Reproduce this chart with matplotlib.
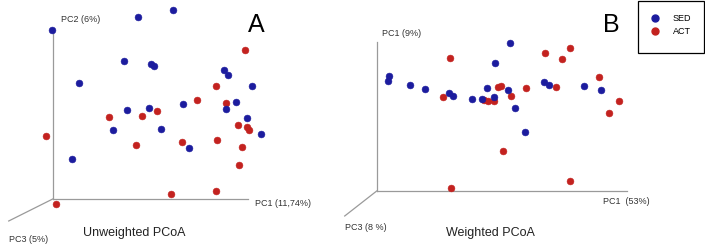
import matplotlib
matplotlib.use("Agg")
import matplotlib.pyplot as plt
from matplotlib.patches import Rectangle
from matplotlib.lines import Line2D

plt.rcParams['font.family'] = ['Liberation Sans', 'DejaVu Sans']

BLUE = '#1c1c9e'
RED = '#c3221f'

# projected PCoA coordinates (relative to the 3D frame origin)
# panel A - unweighted
a_sed_x = [-1, 85, 120, 71, 98, 101, 26, 171, 175, 199, 183, 173, 130, 96, 74, 108, 60, 194, 208, 136, 19]
a_sed_y = [169, 182, 189, 138, 135, 133, 116, 129, 124, 113, 97, 90, 95, 91, 89, 70, 69, 81, 65, 51, 40]
a_act_x = [192, 163, 144, 173, 104, 89, 56, 185, 194, 196, -7, 129, 164, 83, 189, 186, 118, 163, 3]
a_act_y = [149, 113, 99, 96, 88, 83, 82, 74, 72, 69, 63, 57, 59, 54, 52, 34, 5, 8, -5]

# panel B - weighted
b_sed_x = [133, 118, 12, 11, 33, 48, 72, 76, 95, 105, 110, 117, 131, 138, 148, 167, 172, 207, 224]
b_sed_y = [148, 128, 115, 110, 106, 102, 98, 95, 92, 92, 103, 94, 101, 83, 59, 109, 106, 105, 101]
b_act_x = [73, 168, 193, 185, 222, 66, 107, 111, 117, 121, 124, 134, 149, 179, 242, 232, 126, 193, 74]
b_act_y = [133, 138, 143, 132, 114, 94, 91, 90, 90, 104, 105, 95, 103, 104, 90, 78, 40, 10, 3]

groups = ['SED', 'ACT']

fig = plt.figure(figsize=(7.05, 2.44), dpi=100)

def frame(ax, ox, oy, top, right, diag):
    # each panel axes covers the whole figure, 1 unit = 1 pixel
    ax.set_xlim(-ox, 705 - ox)
    ax.set_ylim(oy - 244, oy)
    ax.axis('off')
    ax.plot([0, 0], [0, top], color='#9a9a9a', lw=0.9, zorder=1)
    ax.plot([0, right], [0, 0], color='#9a9a9a', lw=0.9, zorder=1)
    ax.plot([0, diag[0]], [0, diag[1]], color='#9a9a9a', lw=0.9, zorder=1)

def points(ax, x, y, c):
    ax.scatter(x, y, s=24, color=c, edgecolors=c, linewidths=0.4, zorder=3)

axA = fig.add_axes([0, 0, 1, 1])
axA.patch.set_alpha(0)
frame(axA, 52.7, 199, 167, 195, (-44, -22))
points(axA, a_act_x, a_act_y, RED)
points(axA, a_sed_x, a_sed_y, BLUE)
axA.text(8, 180, 'PC2 (6%)', fontsize=6.5, va='center', color='#333333')
axA.text(202, -5, 'PC1 (11,74%)', fontsize=6.5, va='center', color='#333333')
axA.text(-44, -40, 'PC3 (5%)', fontsize=6.5, va='center', color='#333333')
axA.text(82, -34, 'Unweighted PCoA', fontsize=9, ha='center', va='center', color='#222222')
axA.text(204, 174, 'A', fontsize=18, ha='center', va='center')

axB = fig.add_axes([0, 0, 1, 1])
axB.patch.set_alpha(0)
frame(axB, 376.7, 191, 149, 250, (-32, -25))
points(axB, b_act_x, b_act_y, RED)
points(axB, b_sed_x, b_sed_y, BLUE)
axB.text(5, 158, 'PC1 (9%)', fontsize=6.5, va='center', color='#333333')
axB.text(226, -11, 'PC1  (53%)', fontsize=6.5, va='center', color='#333333')
axB.text(-32, -37, 'PC3 (8 %)', fontsize=6.5, va='center', color='#333333')
axB.text(114, -42, 'Weighted PCoA', fontsize=9, ha='center', va='center', color='#222222')
axB.text(235, 166, 'B', fontsize=18, ha='center', va='center')

# legend box
fig.patches.append(Rectangle((638 / 705, 1 - 53 / 244), 66 / 705, 52.5 / 244,
                             transform=fig.transFigure, fill=False, edgecolor='black', lw=0.9))
handles = [Line2D([], [], marker='o', ls='', color=c, markersize=5) for c in [BLUE, RED]]
fig.legend(handles, groups, loc='upper left', bbox_to_anchor=(650 / 705, 1 - 14 / 244),
           frameon=False, fontsize=6.5, handletextpad=1.5, labelspacing=0.45,
           borderpad=0, borderaxespad=0, handlelength=1.0)

fig.savefig('out.png', dpi=100)
